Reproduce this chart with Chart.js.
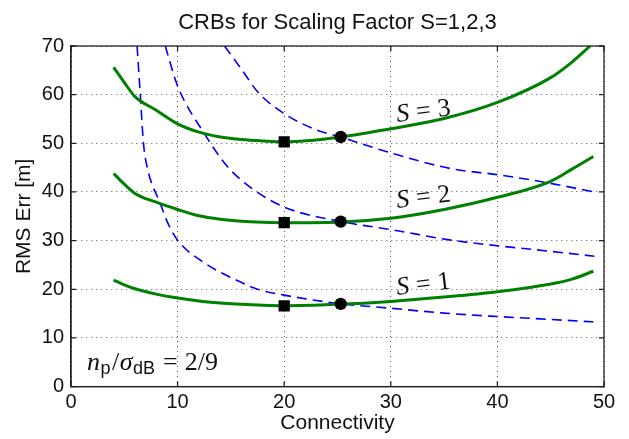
<!DOCTYPE html>
<html>
<head>
<meta charset="utf-8">
<script src="https://cdn.jsdelivr.net/npm/chart.js@4.4.1/dist/chart.umd.min.js"></script>
<style>
  html, body { margin: 0; padding: 0; background: #fff; }
  #wrap { width: 629px; height: 439px; }
</style>
</head>
<body>
<div id="wrap"><canvas id="grafico" width="629" height="439"></canvas></div>
<script>
// valores (aprox.)
const xVerde12 = [4, 5, 6, 8, 10, 12, 14, 16, 18, 20, 25, 30, 35, 40, 45, 47, 49];
const xVerde3 = [4, 5, 6, 8, 10, 12, 14, 16, 18, 20, 25, 30, 35, 40, 45, 47, 48.7];
const crbS1 = [21.9, 20.9, 20.1, 19.0, 18.2, 17.6, 17.2, 16.9, 16.7, 16.6, 16.9, 17.5, 18.4, 19.5, 21.1, 22.1, 23.7];
const crbS2 = [43.8, 41.6, 39.7, 37.9, 36.4, 35.1, 34.4, 34.0, 33.8, 33.7, 33.8, 34.6, 36.4, 38.9, 42.2, 44.7, 47.3];
const crbS3 = [65.6, 62.5, 59.6, 56.8, 54.0, 52.3, 51.3, 50.8, 50.5, 50.3, 51.2, 53.0, 55.1, 58.4, 63.5, 66.7, 70];

// curvas azules a trazos
const xAzul1 = [6.2, 6.5, 6.8, 7.2, 8.4, 9, 10, 12.4, 15.9, 17.5, 20, 25.4, 30, 35, 40, 45, 49];
const azul1 = [70, 60, 50, 44.6, 37.5, 34.0, 30.1, 25.6, 21.5, 20.0, 18.8, 17.0, 16.1, 15.1, 14.4, 13.8, 13.3];
const xAzul2 = [8.84, 10, 12.45, 14.65, 16.8, 20, 25.4, 30.2, 35.65, 40.2, 45, 49.1];
const azul2 = [70, 61.8, 52.2, 45.3, 41.0, 36.9, 33.9, 32.2, 30.1, 28.9, 27.8, 26.8];
const xAzul3 = [14.4, 16, 17.5, 20, 23.1, 25.4, 30.2, 35.65, 40.2, 44.4, 49.1];
const azul3 = [70, 65.2, 60.6, 56.1, 52.7, 51.2, 47.9, 44.8, 43.5, 42.0, 40.0];

// marcadores
const xCuadros = [20, 20, 20];
const yCuadros = [50.3, 33.7, 16.6];
const xCirculos = [25.3, 25.3, 25.3];
const yCirculos = [51.3, 33.9, 17.0];

// ticks
const ticksX = [0, 10, 20, 30, 40, 50];
const ticksY = [0, 10, 20, 30, 40, 50, 60, 70];

const VERDE = 'rgb(0,128,0)';
const AZUL = 'rgb(0,0,255)';
const SANS = "'Liberation Sans', Arial, sans-serif";
const SERIF = "'Liberation Serif', 'Times New Roman', serif";

function puntos(xs, ys) {
    return xs.map((x, i) => ({ x: x, y: ys[i] }));
}

// etiquetas S = n (ancla en unidades de datos, esquina izq. de la linea base)
const etiquetasS = [
    { num: '3', x: 30.6, y: 54.4 },
    { num: '2', x: 30.6, y: 36.7 },
    { num: '1', x: 30.6, y: 18.8 }
];

// caja con ticks hacia dentro + textos
const pluginCaja = {
    id: 'caja',
    afterDraw(chart) {
        const { ctx, chartArea: a, scales } = chart;
        ctx.save();
        ctx.strokeStyle = '#222';
        ctx.lineWidth = 1.3;
        ctx.strokeRect(a.left, a.top, a.right - a.left, a.bottom - a.top);
        ctx.beginPath();
        ticksX.forEach(v => {
            const px = scales.x.getPixelForValue(v);
            ctx.moveTo(px, a.bottom); ctx.lineTo(px, a.bottom - 5);
            ctx.moveTo(px, a.top); ctx.lineTo(px, a.top + 5);
        });
        ticksY.forEach(v => {
            const py = scales.y.getPixelForValue(v);
            ctx.moveTo(a.left, py); ctx.lineTo(a.left + 5, py);
            ctx.moveTo(a.right, py); ctx.lineTo(a.right - 5, py);
        });
        ctx.stroke();

        // S = 1,2,3
        ctx.fillStyle = '#111';
        ctx.textBaseline = 'alphabetic';
        etiquetasS.forEach(e => {
            const px = scales.x.getPixelForValue(e.x);
            const py = scales.y.getPixelForValue(e.y);
            ctx.save();
            ctx.translate(px, py);
            ctx.rotate(-7 * Math.PI / 180);
            ctx.font = 'italic 26px ' + SERIF;
            ctx.fillText('S', 0, 0);
            let w = ctx.measureText('S').width + 7;
            ctx.font = '26px ' + SERIF;
            ctx.fillText('=', w, 0);
            w += ctx.measureText('=').width + 7;
            ctx.fillText(e.num, w, 0);
            ctx.restore();
        });

        // n_p / sigma_dB = 2/9
        let x = a.left + 16;
        const y = a.bottom - 16.5;
        const partes = [
            { t: 'n', f: 'italic 26px ' + SERIF, dy: 0, extra: 0.5 },
            { t: 'p', f: '18px ' + SANS, dy: 4, extra: 1.5 },
            { t: '/', f: '26px ' + SERIF, dy: 0, extra: 0.5 },
            { t: 'σ', f: 'italic 26px ' + SERIF, dy: 0, extra: 0.5 },
            { t: 'dB', f: '18px ' + SANS, dy: 4, extra: 8 },
            { t: '=', f: '26px ' + SERIF, dy: 0, extra: 7 },
            { t: '2/9', f: '26px ' + SERIF, dy: 0 }
        ];
        partes.forEach(p => {
            ctx.font = p.f;
            ctx.fillText(p.t, x, y + p.dy);
            x += ctx.measureText(p.t).width + (p.extra || 0);
        });
        ctx.restore();
    }
};

const ctx = document.getElementById('grafico').getContext('2d');

// order: el mayor se dibuja debajo
const lineaVerde = (datos) => ({
    type: 'line',
    data: datos,
    order: 2,
    borderColor: VERDE,
    borderWidth: 3,
    pointRadius: 0,
    cubicInterpolationMode: 'monotone',
    fill: false
});
const lineaAzul = (datos) => ({
    type: 'line',
    data: datos,
    order: 3,
    borderColor: AZUL,
    borderWidth: 1.6,
    borderDash: [10, 6],
    pointRadius: 0,
    cubicInterpolationMode: 'monotone',
    fill: false
});

new Chart(ctx, {
    type: 'line',
    data: {
        datasets: [
            lineaAzul(puntos(xAzul1, azul1)),
            lineaAzul(puntos(xAzul2, azul2)),
            lineaAzul(puntos(xAzul3, azul3)),
            lineaVerde(puntos(xVerde12, crbS1)),
            lineaVerde(puntos(xVerde12, crbS2)),
            lineaVerde(puntos(xVerde3, crbS3)),
            {
                type: 'scatter',
                data: puntos(xCuadros, yCuadros),
                order: 1,
                pointStyle: 'rect',
                pointRadius: 8,
                backgroundColor: '#000',
                borderColor: '#000',
                borderWidth: 0
            },
            {
                type: 'scatter',
                data: puntos(xCirculos, yCirculos),
                order: 1,
                pointStyle: 'circle',
                pointRadius: 6.2,
                backgroundColor: '#000',
                borderColor: '#000',
                borderWidth: 0
            }
        ]
    },
    options: {
        responsive: false,
        animation: false,
        layout: { padding: { left: 0, right: 25, top: 0, bottom: 0 } },
        plugins: {
            legend: { display: false },
            tooltip: { enabled: false },
            title: {
                display: true,
                text: 'CRBs for Scaling Factor S=1,2,3',
                fullSize: false,
                color: '#111',
                font: { family: SANS, size: 22, weight: 'normal' },
                padding: { top: 10, bottom: 9.6 }
            }
        },
        scales: {
            x: {
                type: 'linear',
                min: 0,
                max: 50,
                afterFit: s => { s.height = 52.4; },
                afterBuildTicks: s => { s.ticks = ticksX.map(v => ({ value: v })); },
                ticks: { color: '#111', font: { family: SANS, size: 20 }, padding: 4, maxRotation: 0 },
                grid: { color: '#555', lineWidth: 1, drawTicks: false },
                border: { color: '#222', width: 1.3, dash: [1, 4] },
                title: { display: true, text: 'Connectivity', color: '#111', font: { family: SANS, size: 21 }, padding: { top: 0, bottom: 3 } }
            },
            y: {
                type: 'linear',
                min: 0,
                max: 70,
                afterFit: s => { s.width = 71; },
                afterBuildTicks: s => { s.ticks = ticksY.map(v => ({ value: v })); },
                ticks: { color: '#111', font: { family: SANS, size: 20 }, padding: 7 },
                grid: { color: '#555', lineWidth: 1, drawTicks: false },
                border: { color: '#222', width: 1.3, dash: [1, 4] },
                title: { display: true, text: 'RMS Err [m]', color: '#111', font: { family: SANS, size: 21 }, padding: { top: 11.5, bottom: 0 } }
            }
        }
    },
    plugins: [pluginCaja]
});
</script>
</body>
</html>
